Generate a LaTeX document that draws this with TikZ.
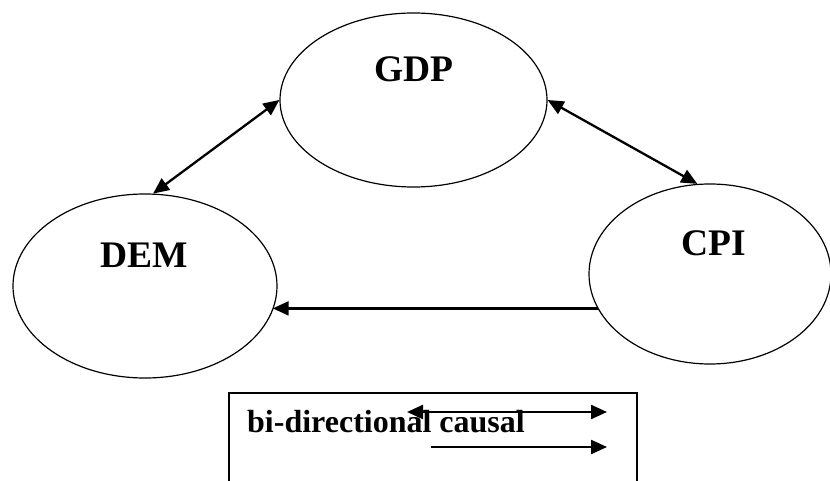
\documentclass[tikz,border=0pt]{standalone}
\usepackage{fontspec}
\setmainfont{Liberation Serif}
\usetikzlibrary{shapes.geometric,arrows.meta}
\tikzset{
  varbox/.style={draw=black, line width=1.2pt, ellipse, inner sep=0pt},
  varname/.style={font=\bfseries\fontsize{37.5}{42}\selectfont, anchor=base, inner sep=0pt},
  tip/.style={Triangle[length=16pt,width=14pt]},
  arr/.style={line width=2.3pt, -{Triangle[length=16pt,width=14pt]}},
  biarr/.style={line width=2.3pt, {Triangle[length=16pt,width=14pt]}-{Triangle[length=16pt,width=14pt]}},
}
\begin{document}
\begin{tikzpicture}[x=1pt,y=-1pt]
\clip (0,0) rectangle (830,481);
\fill[white] (0,0) rectangle (830,481);
% variables
\node[varbox, minimum width=267pt, minimum height=174pt] (gdp) at (413.5,100) {};
\node[varbox, minimum width=264pt, minimum height=184pt] (dem) at (145,286) {};
\node[varbox, minimum width=242pt, minimum height=180pt] (cpi) at (710,274) {};
\node[varname] (gdpt) at (414,82) {GDP};
\node[varname] (demt) at (144,267) {DEM};
\node[varname] (cpit) at (714,255) {CPI};
% connectors
\draw[biarr] (dem.85) -- (gdp.west);
\draw[biarr] (gdp.east) -- (cpi.98);
\draw[arr] (cpi.197) -- (dem.349 |- cpi.197);
% legend
\node[draw=black, line width=1.5pt, anchor=north west, minimum width=408pt, minimum height=110pt, inner sep=0pt] (legend) at (228,392) {};
\node[font=\bfseries\fontsize{32}{36}\selectfont, anchor=base west, inner sep=0pt] (legtext) at (247,432) {bi-directional causal};
\coordinate (b1) at (407,412);
\coordinate (b2) at (607,412);
\coordinate (u1) at (431,447);
\coordinate (u2) at (607,447);
\draw[biarr] (b1) -- (b2);
\draw[arr] (u1) -- (u2);
\end{tikzpicture}
\end{document}
